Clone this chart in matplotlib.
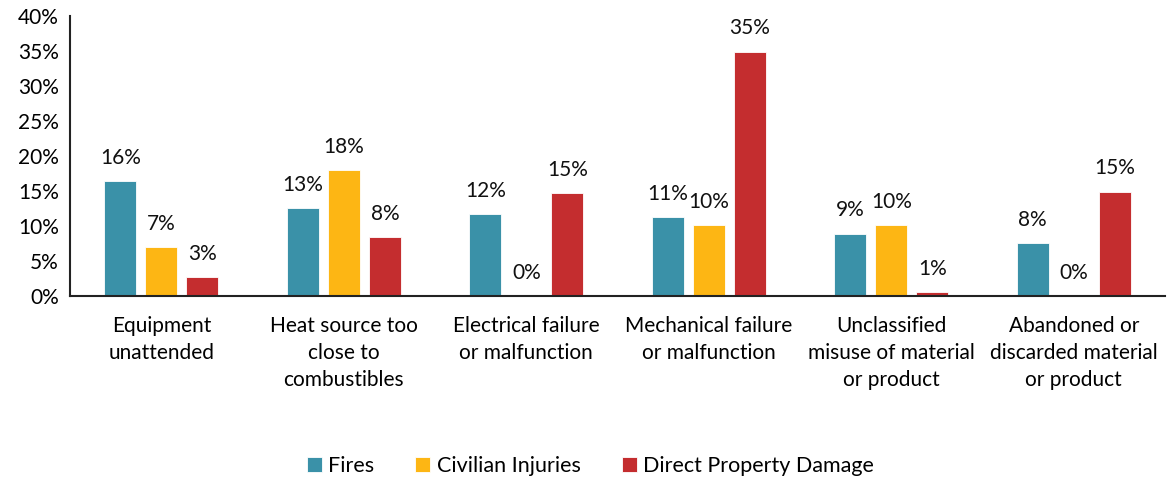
import matplotlib
matplotlib.use("Agg")
import matplotlib.pyplot as plt
import numpy as np

plt.rcParams["font.family"] = ["Lato", "DejaVu Sans"]

CATEGORIES = [
    "Equipment\nunattended",
    "Heat source too\nclose to\ncombustibles",
    "Electrical failure\nor malfunction",
    "Mechanical failure\nor malfunction",
    "Unclassified\nmisuse of material\nor product",
    "Abandoned or\ndiscarded material\nor product",
]
SERIES = ["Fires", "Civilian Injuries", "Direct Property Damage"]
FIRES = [16.4, 12.6, 11.7, 11.3, 8.9, 7.6]
INJURIES = [7.0, 18.0, 0.0, 10.1, 10.1, 0.0]
DAMAGE = [2.7, 8.4, 14.7, 34.9, 0.6, 14.9]
COLORS = ["#3A91A8", "#FDB614", "#C42D2F"]

fig = plt.figure(figsize=(11.69, 4.8), dpi=100)
ax = fig.add_axes([0.06, 0.383, 0.9366, 0.584])

x = np.arange(len(CATEGORIES))
step = 0.225
width = 0.175
for i, (name, vals, col) in enumerate(zip(SERIES, [FIRES, INJURIES, DAMAGE], COLORS)):
    pos = x + (i - 1) * step
    ax.bar(pos, vals, width, color=col, label=name, edgecolor="white", linewidth=0.6)
    for p, v in zip(pos, vals):
        ax.text(p, v + 1.9, f"{round(v):.0f}%", ha="center", va="bottom",
                fontsize=15, color="#111111")

ax.set_xlim(-0.5, len(CATEGORIES) - 0.5)
ax.set_ylim(0, 40)
ax.set_yticks(range(0, 41, 5))
ax.set_yticklabels([f"{t}%" for t in range(0, 41, 5)], fontsize=15)
ax.set_xticks(x)
ax.set_xticklabels(CATEGORIES, fontsize=15, linespacing=1.45)
ax.tick_params(axis="both", length=0, pad=8)
ax.tick_params(axis="x", pad=14)
for s in ("top", "right"):
    ax.spines[s].set_visible(False)
for s in ("left", "bottom"):
    ax.spines[s].set_linewidth(1.5)
    ax.spines[s].set_color("#222222")

fig.legend(loc="center", bbox_to_anchor=(0.505, 0.03), ncol=3, frameon=False,
           fontsize=15.5, handlelength=0.7, handleheight=0.7, handletextpad=0.3,
           columnspacing=1.9)

fig.savefig("out.png", dpi=100)
